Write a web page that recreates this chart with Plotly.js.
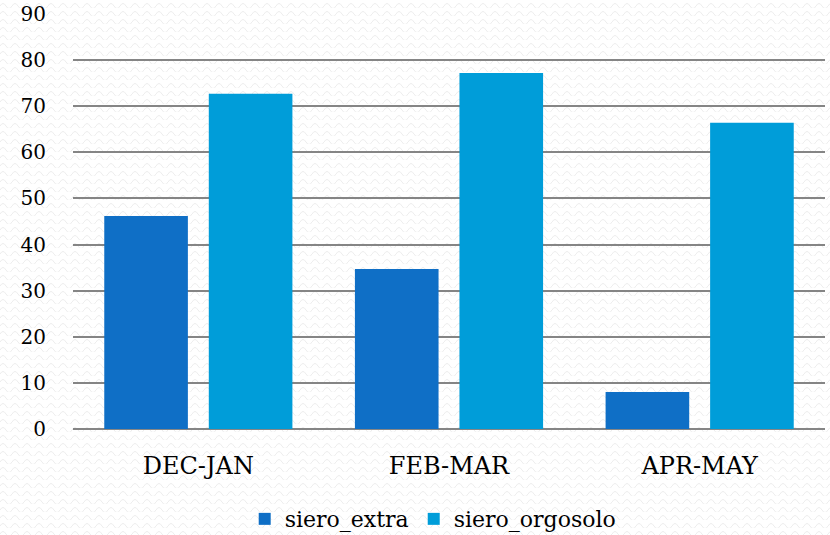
<!DOCTYPE html>
<html>
<head>
<meta charset="utf-8">
<script src="https://cdn.plot.ly/plotly-3.0.1.min.js"></script>
<style>
html,body{margin:0;padding:0;}
body{width:830px;height:535px;background-color:#ffffff;
background-image:url("data:image/svg+xml;utf8,<svg xmlns='http://www.w3.org/2000/svg' width='12' height='8'><path d='M0 6 Q3 1 6 6 T12 6' fill='none' stroke='%23ececec' stroke-width='1'/></svg>");}
#chart{width:830px;height:535px;}
</style>
</head>
<body>
<div id="chart"></div>
<script>
var categories = ["DEC-JAN", "FEB-MAR", "APR-MAY"];
var sieroExtra = [46.2, 34.7, 8.0];
var sieroOrgosolo = [72.7, 77.2, 66.4];
var seriesNames = ["siero_extra", "siero_orgosolo"];
var yTicks = [0, 10, 20, 30, 40, 50, 60, 70, 80, 90];

var font = "DejaVu Serif";
var data = [
  {type: "bar", x: categories, y: sieroExtra, name: seriesNames[0], marker: {color: "#0F6FC6"}},
  {type: "bar", x: categories, y: sieroOrgosolo, name: seriesNames[1], marker: {color: "#009DD9"}}
];
var layout = {
  width: 830, height: 535,
  margin: {l: 73, r: 5, t: 14, b: 106, autoexpand: false},
  paper_bgcolor: "rgba(0,0,0,0)",
  plot_bgcolor: "rgba(0,0,0,0)",
  barmode: "group",
  bargap: 0.166,
  bargroupgap: 0.2,
  font: {family: font, color: "#000000", size: 18},
  xaxis: {
    showgrid: false, showline: false, zeroline: false,
    tickfont: {family: font, size: 24, color: "#000"},
    ticks: "", ticklabelstandoff: 20
  },
  yaxis: {
    range: [0, 90], tickvals: yTicks, ticktext: yTicks.map(String),
    showgrid: true, gridcolor: "#858585", gridwidth: 2,
    zeroline: true, zerolinecolor: "#858585", zerolinewidth: 2,
    showline: false, ticks: "",
    tickfont: {family: font, size: 20, color: "#000"},
    ticklabelstandoff: 26
  },
  showlegend: true,
  legend: {
    orientation: "h", x: 0.479, xanchor: "center", y: -0.217, yanchor: "middle",
    font: {family: font, size: 22, color: "#000"},
    itemwidth: 30, tracegroupgap: 0, bgcolor: "rgba(0,0,0,0)"
  }
};
Plotly.newPlot("chart", data, layout, {displayModeBar: false, staticPlot: true});
</script>
</body>
</html>
